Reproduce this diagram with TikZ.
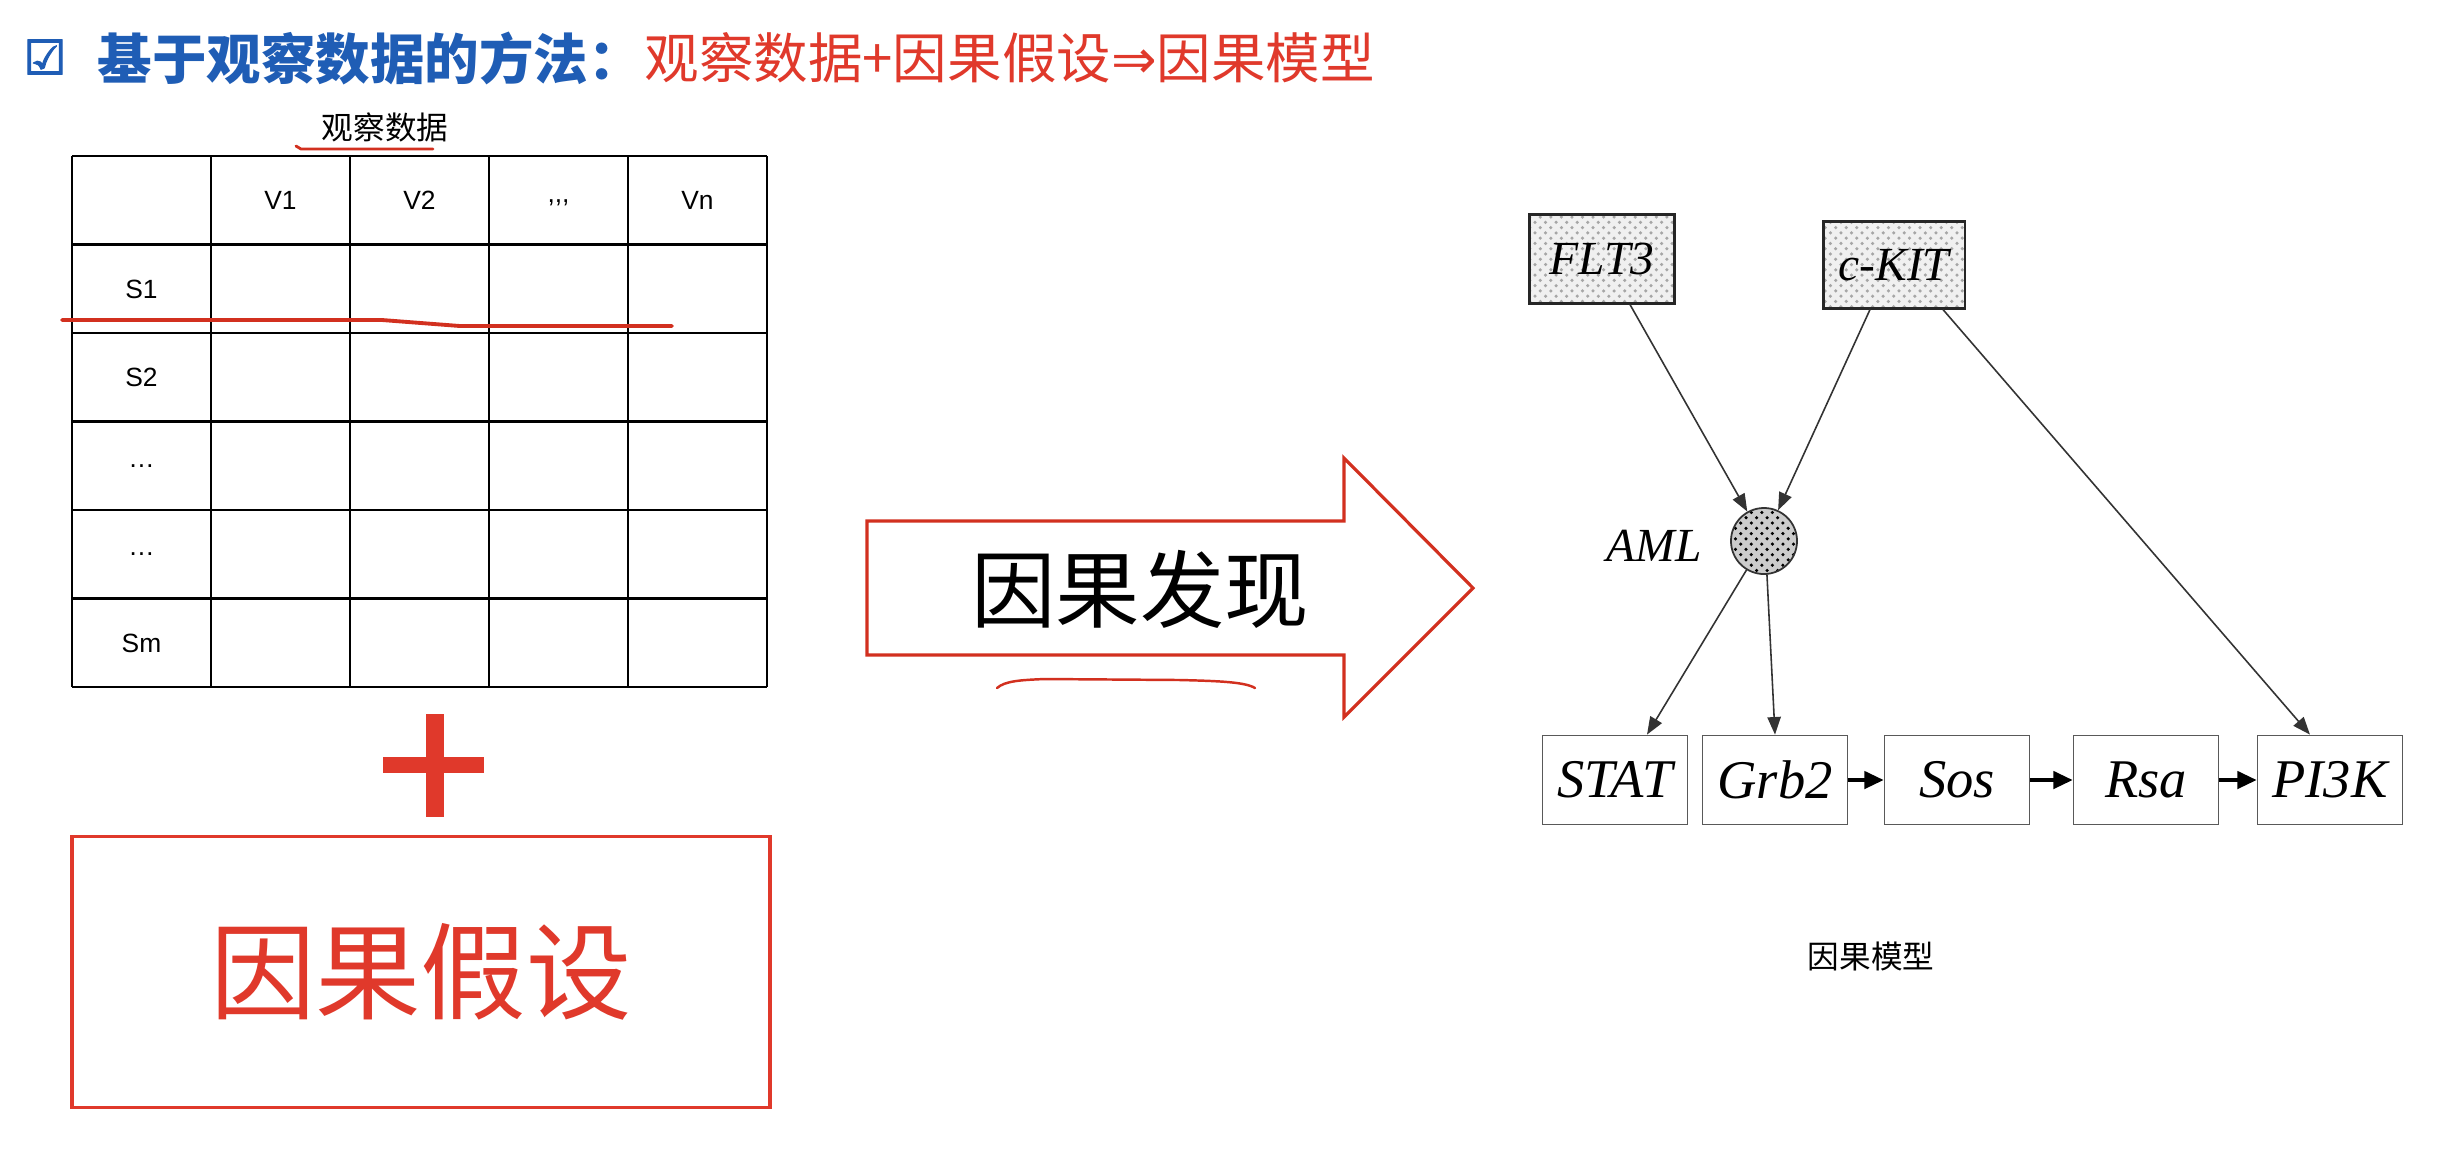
\documentclass[tikz,border=0pt]{standalone}
\usepackage{fontspec}
\setmainfont{Liberation Serif}
\newfontfamily\cjk{Noto Sans CJK SC}
\newfontfamily\arial{Liberation Sans}
\newfontfamily\symb{DejaVu Sans}
\newfontfamily\symbheavy[FakeBold=2.5]{DejaVu Sans}
\usetikzlibrary{arrows.meta,patterns,calc}

\definecolor{titleblue}{HTML}{1F5DB5}
\definecolor{hyred}{HTML}{E0392B}
\definecolor{penred}{HTML}{D2301F}
\definecolor{edgegray}{HTML}{333333}

\tikzset{
  cell/.style={font=\arial\fontsize{7.5}{9}\selectfont},
  genebox/.style={draw=black!65, line width=0.5pt, minimum width=1.45cm, minimum height=0.89cm,
    inner sep=0pt, font=\itshape\fontsize{15.5}{17}\selectfont},
  srcbox/.style={genebox, draw=black!85, line width=0.6pt, preaction={fill=gray!12},
    pattern=crosshatch dots, pattern color=gray!70, font=\itshape\fontsize{13.5}{15}\selectfont},
  link/.style={draw=edgegray, line width=0.45pt, -{Triangle[length=5pt,width=3.8pt]}},
  chain/.style={draw=black, line width=0.9pt, -{Triangle[length=5.5pt,width=5pt]}},
}

\begin{document}
\begin{tikzpicture}[x=0.01cm, y=-0.01cm]
    \fill[white] (0,0) rectangle (2444,1156);
    \useasboundingbox (0,0) rectangle (2444,1156);

    % Title
    \node[font=\symbheavy\fontsize{13.5}{15}\selectfont, text=titleblue] (tick) at (45,57) {☑};
    \node[anchor=west, inner sep=0pt, font=\cjk\bfseries\fontsize{15.5}{17}\selectfont, text=titleblue] (title) at (97,58) {基于观察数据的方法：};
    \node[anchor=west, inner sep=0pt, font=\cjk\fontsize{15.5}{17}\selectfont, text=hyred] (formula) at (644,58) {观察数据+因果假设{\symb ⇒}因果模型};

    % Observed data table
    \node[font=\cjk\fontsize{9}{10}\selectfont] (datalab) at (385,127) {观察数据};
    \draw[penred, line width=0.8pt, line cap=round] (296,146) -- (301,149) -- (433,149);
    \foreach \i in {0,...,5}
        \draw[line width=0.8pt] (72+139*\i,156) -- (72+139*\i,687);
    \foreach \j in {0,...,6}
        \draw[line width=0.8pt] (72,156+88.5*\j) -- (767,156+88.5*\j);
    \node[cell] (v1) at (280.5,200) {V1};
    \node[cell] (v2) at (419.5,200) {V2};
    \node[cell] (vdots) at (558.5,203) {,,,};
    \node[cell] (vn) at (697.5,200) {Vn};
    \node[cell] (s1) at (141.5,289) {S1};
    \node[cell] (s2) at (141.5,377) {S2};
    \node[cell] (s3) at (141.5,466) {…};
    \node[cell] (s4) at (141.5,554) {…};
    \node[cell] (sm) at (141.5,643) {Sm};
    % pen stroke under S1
    \draw[penred, line width=1.1pt, line cap=round] (62,320) -- (382,320) -- (460,326) -- (672,326);

    % Plus and hypothesis
    \fill[hyred] (383,757) rectangle (484,773);
    \fill[hyred] (426,714) rectangle (444,817);
    \node[draw=hyred, line width=1pt, minimum width=6.98cm, minimum height=2.71cm,
          font=\cjk\fontsize{30}{32}\selectfont, text=hyred] (hypo) at (421,972) {因果假设};

    % Discovery arrow
    \draw[penred, line width=0.9pt, line join=miter] (867,521) -- (1344,521) -- (1344,458) -- (1473,588)
        -- (1344,717) -- (1344,655) -- (867,655) -- cycle;
    \node[font=\cjk\fontsize{24}{26}\selectfont] (disc) at (1140,589) {因果发现};
    \draw[penred, line width=0.7pt, line cap=round] (997,688) .. controls (1005,681) and (1020,680) .. (1045,679)
        -- (1180,680) .. controls (1220,681) and (1245,682) .. (1255,688);

    % Causal model
    \node[srcbox] (flt) at (1602,259) {FLT3};
    \node[srcbox, minimum width=1.41cm, minimum height=0.87cm] (ckit) at (1894,265) {c-KIT};
    \node[circle, draw=black!80, line width=0.5pt, minimum size=0.66cm, preaction={fill=gray!40},
          pattern=crosshatch dots, pattern color=black] (aml) at (1764,541) {};
    \node[anchor=east, font=\itshape\fontsize{13.5}{15}\selectfont] (amllab) at (1714,546) {AML};
    \node[genebox] (stat) at (1615,780) {STAT};
    \node[genebox] (grb) at (1775,780) {Grb2};
    \node[genebox] (sos) at (1957,780) {Sos};
    \node[genebox] (rsa) at (2146,780) {Rsa};
    \node[genebox] (pik) at (2330,780) {PI3K};

    \draw[link] ([xshift=0.28cm]flt.south) -- (aml);
    \draw[link] ([xshift=-0.24cm]ckit.south) -- (aml);
    \draw[link] ([xshift=0.49cm]ckit.south) -- ([xshift=-0.2cm]pik.north);
    \draw[link] (aml) -- ([xshift=0.32cm]stat.north);
    \draw[link] (aml.-85) -- (grb.north);
    \draw[chain] (grb) -- (sos);
    \draw[chain] (sos) -- (rsa);
    \draw[chain] (rsa) -- (pik);

    \node[font=\cjk\fontsize{9}{10}\selectfont] (caption) at (1871,956) {因果模型};
\end{tikzpicture}
\end{document}
